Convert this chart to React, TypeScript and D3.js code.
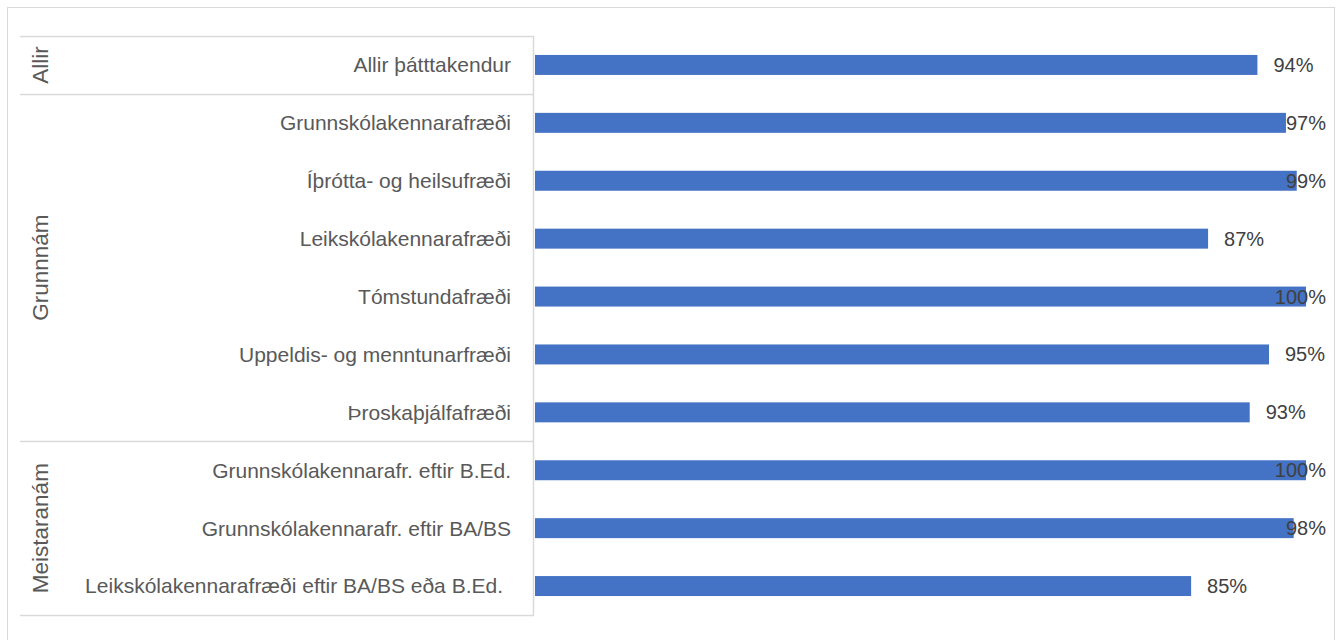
import React, { useEffect, useRef } from 'react';
import * as d3 from 'd3';

const categories = [
  'Allir þátttakendur',
  'Grunnskólakennarafræði',
  'Íþrótta- og heilsufræði',
  'Leikskólakennarafræði',
  'Tómstundafræði',
  'Uppeldis- og menntunarfræði',
  'Þroskaþjálfafræði',
  'Grunnskólakennarafr. eftir B.Ed.',
  'Grunnskólakennarafr. eftir BA/BS',
  'Leikskólakennarafræði eftir BA/BS eða B.Ed.',
];
const values = [93.7, 97.4, 98.8, 87.3, 100, 95.2, 92.7, 100, 98.4, 85.1];
const valueLabels = ['94%', '97%', '99%', '87%', '100%', '95%', '93%', '100%', '98%', '85%'];
const groups = [
  { name: 'Allir', size: 1 },
  { name: 'Grunnnám', size: 6 },
  { name: 'Meistaranám', size: 3 },
];

const width = 1343;
const height = 640;

const App: React.FC = () => {
  const svgRef = useRef<SVGSVGElement>(null);

  useEffect(() => {
    if (!svgRef.current) return;
    const svg = d3.select(svgRef.current);
    svg.selectAll('*').remove();

    const font = '"Liberation Sans", Arial, sans-serif';
    const textColor = '#595959';
    const lineColor = '#d9d9d9';
    const margin = { top: 36, left: 534, right: 37, bottom: 25 };
    const plotBottom = height - margin.bottom;

    // outer chart border
    svg.append('rect')
      .attr('x', 7.5).attr('y', 7.5)
      .attr('width', 1327).attr('height', 660)
      .attr('fill', '#fff')
      .attr('stroke', lineColor)
      .attr('stroke-width', 1);

    const x = d3.scaleLinear().domain([0, 100]).range([margin.left + 1, 1306]);
    const y = d3.scaleBand<string>()
      .domain(categories)
      .range([margin.top, plotBottom])
      .paddingInner(0.655)
      .paddingOuter(0.3275);

    const step = y.step();

    // group separators
    const bounds: number[] = [margin.top];
    let acc = 0;
    groups.forEach(g => {
      acc += g.size;
      bounds.push(margin.top + acc * step);
    });

    svg.selectAll('line.sep')
      .data(bounds)
      .enter()
      .append('line')
      .attr('class', 'sep')
      .attr('x1', 20)
      .attr('x2', margin.left)
      .attr('y1', d => Math.round(d) + 0.5)
      .attr('y2', d => Math.round(d) + 0.5)
      .attr('stroke', lineColor)
      .attr('stroke-width', 1.5);

    svg.append('line')
      .attr('x1', margin.left - 0.5).attr('x2', margin.left - 0.5)
      .attr('y1', margin.top).attr('y2', plotBottom)
      .attr('stroke', lineColor)
      .attr('stroke-width', 1.5);

    // group labels
    let start = 0;
    groups.forEach(g => {
      const cy = margin.top + (start + g.size / 2) * step;
      start += g.size;
      svg.append('text')
        .attr('transform', `translate(48,${cy}) rotate(-90)`)
        .attr('text-anchor', 'middle')
        .attr('font-family', font)
        .attr('font-size', 22.5)
        .attr('fill', textColor)
        .text(g.name);
    });

    // category labels
    svg.selectAll('text.cat')
      .data(categories)
      .enter()
      .append('text')
      .attr('class', 'cat')
      .attr('x', (d, i) => (i === categories.length - 1 ? 503 : 511))
      .attr('y', d => (y(d) as number) + y.bandwidth() / 2)
      .attr('dy', '0.35em')
      .attr('text-anchor', 'end')
      .attr('font-family', font)
      .attr('font-size', 21)
      .attr('fill', textColor)
      .text(d => d);

    // bars
    svg.selectAll('rect.bar')
      .data(values)
      .enter()
      .append('rect')
      .attr('class', 'bar')
      .attr('x', x(0))
      .attr('y', (d, i) => y(categories[i]) as number)
      .attr('width', d => x(d) - x(0))
      .attr('height', y.bandwidth())
      .attr('fill', '#4472C4');

    // value labels
    const labels = svg.selectAll('text.val')
      .data(values)
      .enter()
      .append('text')
      .attr('class', 'val')
      .attr('y', (d, i) => (y(categories[i]) as number) + y.bandwidth() / 2)
      .attr('dy', '0.35em')
      .attr('font-family', font)
      .attr('font-size', 20)
      .attr('fill', '#404040')
      .text((d, i) => valueLabels[i]);

    labels.each(function (d) {
      const el = this as SVGTextElement;
      const w = el.getComputedTextLength();
      const px = Math.min(x(d) + 16, 1326 - w);
      d3.select(el).attr('x', px);
    });
  }, []);

  return (
    <svg
      ref={svgRef}
      width={width}
      height={height}
      style={{ position: 'absolute', left: 0, top: 0 }}
    />
  );
};

export default App;
